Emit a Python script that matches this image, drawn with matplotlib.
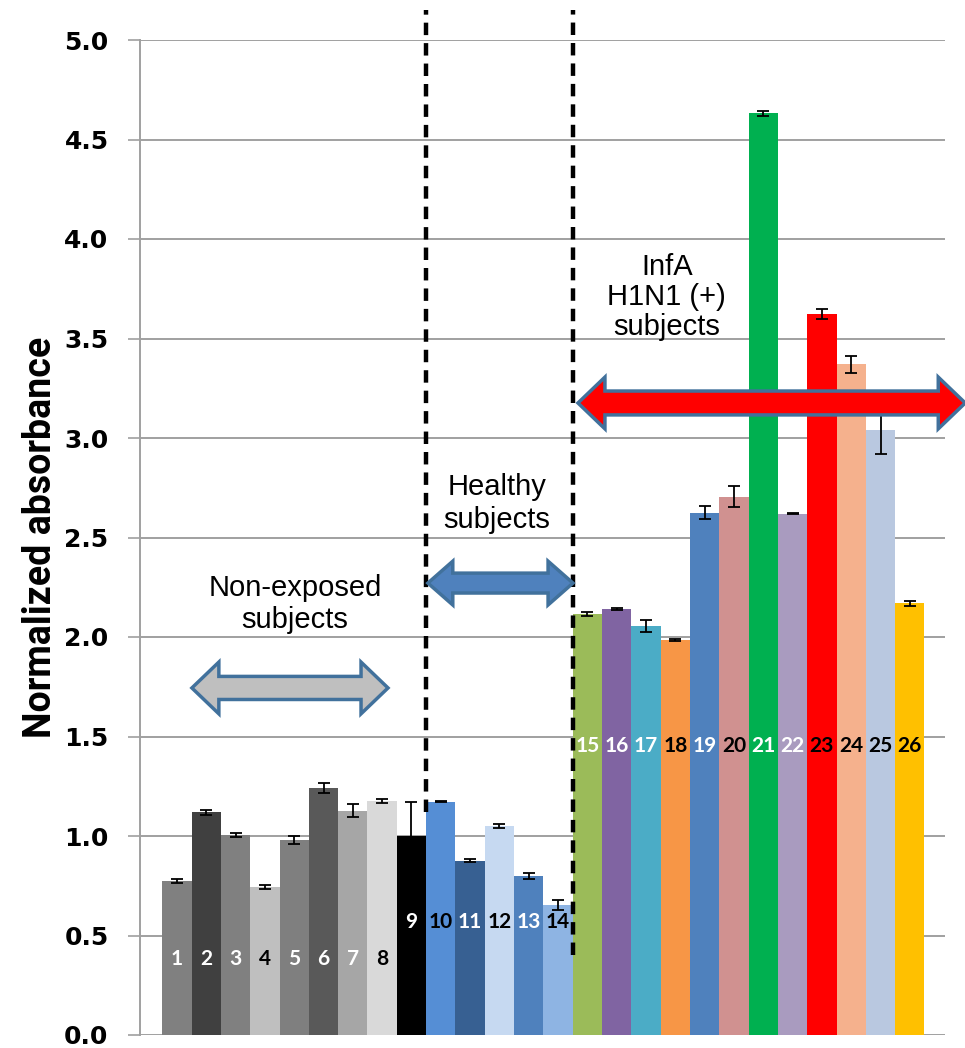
import matplotlib
matplotlib.use("Agg")
import matplotlib.pyplot as plt
from matplotlib.patches import Polygon
import numpy as np

# Subject data
subjects = [str(i) for i in range(1, 27)]
absorbance = [0.774, 1.119, 1.005, 0.745, 0.980, 1.241, 1.127, 1.174,
              1.000, 1.172, 0.876, 1.052, 0.797, 0.653,
              2.116, 2.139, 2.054, 1.983, 2.625, 2.705, 4.632, 2.620,
              3.623, 3.370, 3.040, 2.169]
errors = [0.011, 0.011, 0.010, 0.011, 0.022, 0.023, 0.032, 0.010,
          0.170, 0.003, 0.009, 0.010, 0.015, 0.023,
          0.012, 0.005, 0.031, 0.005, 0.031, 0.052, 0.013, 0.004,
          0.025, 0.042, 0.120, 0.013]
bar_colors = ["#808080", "#404040", "#808080", "#BFBFBF", "#7F7F7F", "#595959",
              "#A6A6A6", "#D9D9D9", "#000000", "#558ED5", "#376092", "#C6D9F1",
              "#4F81BD", "#8EB4E3", "#9BBB59", "#8064A2", "#4BACC6", "#F79646",
              "#4F81BD", "#D09190", "#00B050", "#A99BBF", "#FF0000", "#F5B18D",
              "#B9C8E0", "#FFC000"]
label_colors = ["white", "white", "white", "black", "white", "white", "white", "black",
                "white", "black", "white", "black", "white", "black",
                "white", "white", "white", "black", "white", "black", "white", "white",
                "black", "black", "black", "black"]
label_heights = [0.38] * 8 + [0.57] * 6 + [1.45] * 12

yticks = [0.0, 0.5, 1.0, 1.5, 2.0, 2.5, 3.0, 3.5, 4.0, 4.5, 5.0]

fig = plt.figure(figsize=(9.65, 10.48), dpi=100)
ax = fig.add_axes([140 / 965, 13 / 1048, 805 / 965, 995 / 1048])

x = np.arange(len(subjects))
ax.bar(x, absorbance, width=1.0, color=bar_colors, zorder=2)
ax.errorbar(x, absorbance, yerr=errors, fmt="none", ecolor="black",
            elinewidth=1.3, capsize=4, capthick=1.3, zorder=3)

for xi, s, c, h in zip(x, subjects, label_colors, label_heights):
    ax.text(xi, h, s, ha="center", va="center", color=c,
            fontsize=15, fontweight="bold", family=["Lato", "DejaVu Sans"], zorder=4)

ax.set_xlim(-1.26, 26.2)
ax.set_ylim(0, 5.0)
ax.set_yticks(yticks)
ax.set_yticklabels([f"{t:.1f}" for t in yticks], fontsize=18, fontweight="bold",
                   family=["DejaVu Sans"])
ax.set_xticks([])
ax.yaxis.grid(True, color="#A0A0A0", linewidth=1.4, zorder=0)
ax.set_axisbelow(True)
for side in ["top", "right", "bottom"]:
    ax.spines[side].set_visible(False)
ax.spines["left"].set_color("#A0A0A0")
ax.spines["left"].set_linewidth(1.4)
ax.tick_params(axis="y", direction="out", length=8.6, width=1.2, color="#A0A0A0", pad=14)

ax.set_ylabel("Normalized absorbance", fontsize=27, fontweight="bold",
              family=["Roboto", "Liberation Sans", "DejaVu Sans"], labelpad=4)

# Group separators
ax.plot([8.5, 8.5], [1.12, 5.15], color="black", linewidth=3.2,
        linestyle=(0, (2.8, 1.8)), clip_on=False, zorder=5)
ax.plot([13.5, 13.5], [0.40, 5.15], color="black", linewidth=3.2,
        linestyle=(0, (2.8, 1.8)), clip_on=False, zorder=5)


def double_arrow(x0, x1, yc, shaft, head, head_len, face):
    pts = [(x0, yc), (x0 + head_len, yc + head), (x0 + head_len, yc + shaft),
           (x1 - head_len, yc + shaft), (x1 - head_len, yc + head), (x1, yc),
           (x1 - head_len, yc - head), (x1 - head_len, yc - shaft),
           (x0 + head_len, yc - shaft), (x0 + head_len, yc - head)]
    ax.add_patch(Polygon(pts, closed=True, facecolor=face, edgecolor="#41719C",
                         linewidth=2.5, joinstyle="miter", clip_on=False, zorder=6))


double_arrow(0.51, 7.20, 1.744, 0.058, 0.13, 0.92, "#BFBFBF")
double_arrow(8.56, 13.51, 2.271, 0.05, 0.11, 0.85, "#4F81BD")
double_arrow(13.68, 26.89, 3.176, 0.06, 0.13, 0.92, "#FF0000")

txt_font = ["Liberation Sans", "DejaVu Sans"]
ax.text(4.03, 2.166, "Non-exposed\nsubjects", ha="center", va="center",
        fontsize=21, family=txt_font, linespacing=1.2, zorder=7)
ax.text(10.91, 2.671, "Healthy\nsubjects", ha="center", va="center",
        fontsize=21, family=txt_font, linespacing=1.2, zorder=7)
ax.text(16.71, 3.71, "InfA\nH1N1 (+)\nsubjects", ha="center", va="center",
        fontsize=21, family=txt_font, linespacing=1.1, zorder=7)

fig.savefig("out.png", dpi=100)
